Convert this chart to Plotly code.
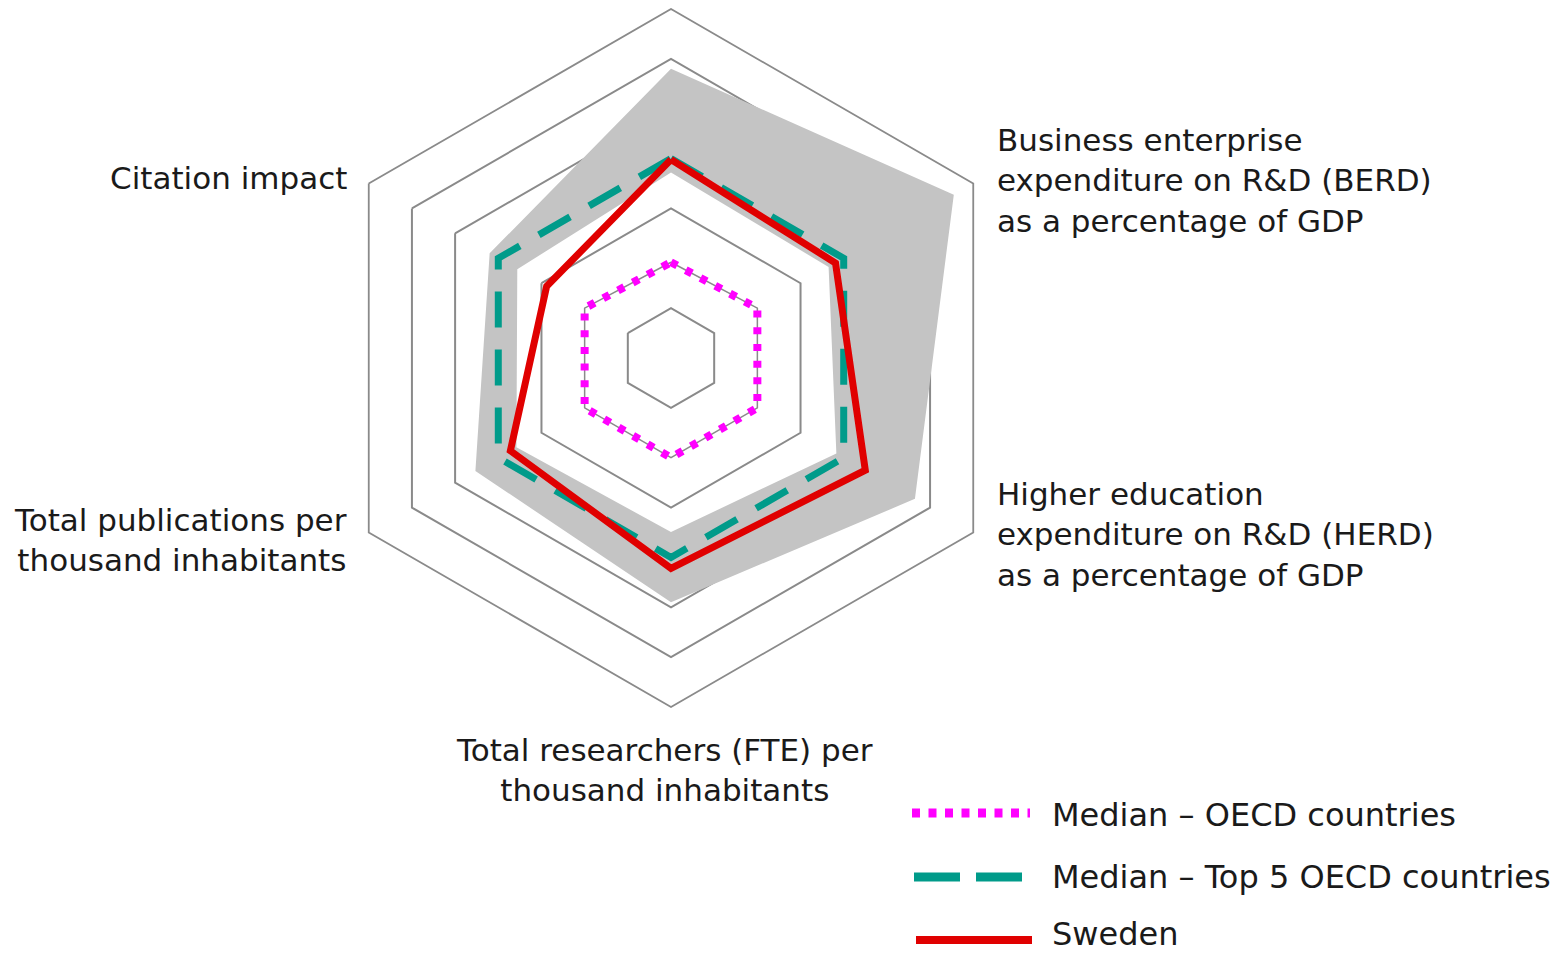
import plotly.graph_objects as go

# ---- data ----
axis_keys = ["A1", "BERD", "HERD", "FTE", "PUB", "CIT"]
axis_labels = [
    "",
    "Business enterprise<br>expenditure on R&D (BERD)<br>as a percentage of GDP",
    "Higher education<br>expenditure on R&D (HERD)<br>as a percentage of GDP",
    "Total researchers (FTE) per<br>thousand inhabitants",
    "Total publications per<br>thousand inhabitants",
    "Citation impact",
]
top5_max = [5.8, 6.55, 5.65, 4.9, 4.53, 4.2]
top5_min = [3.72, 3.65, 3.83, 3.49, 3.58, 3.56]
median_oecd = [1.92, 2.0, 2.0, 2.0, 2.0, 2.0]
median_top5 = [4.0, 4.0, 4.0, 4.0, 4.0, 4.0]
sweden = [3.98, 3.81, 4.5, 4.22, 3.72, 2.88]
ring_values = [1, 3, 5, 6, 7]
legend_names = ["Median \u2013 OECD countries", "Median \u2013 Top 5 OECD countries", "Sweden"]

W, H = 1562, 953
OFF = 8  # page body margin
FONT = "DejaVu Sans"
GRID = "#8a8a8a"
MAGENTA = "#ff00ff"
TEAL = "#009b8a"
RED = "#e00000"


def closed(vals):
    return list(vals) + [vals[0]]


def px(x):
    return (x - OFF) / W


def py(y):
    return 1 - (y - OFF) / H


fig = go.Figure()

# gray band between min and max of top-5 countries
band_theta = closed(axis_keys) + closed(axis_keys[::-1])
band_r = closed(top5_max) + closed(top5_min[::-1])
fig.add_trace(go.Scatterpolar(
    r=band_r, theta=band_theta, mode="lines", fill="toself",
    fillcolor="#c4c4c4", line=dict(width=0, color="rgba(0,0,0,0)"),
    hoverinfo="skip", showlegend=False))

# thin line under OECD median dots
fig.add_trace(go.Scatterpolar(
    r=closed(median_oecd), theta=closed(axis_keys), mode="lines",
    line=dict(color=GRID, width=1.5), hoverinfo="skip", showlegend=False))
fig.add_trace(go.Scatterpolar(
    r=closed(median_oecd), theta=closed(axis_keys), mode="lines",
    line=dict(color=MAGENTA, width=8, dash="7px,9.7px"),
    name=legend_names[0], showlegend=False))
fig.add_trace(go.Scatterpolar(
    r=closed(median_top5), theta=closed(axis_keys), mode="lines",
    line=dict(color=TEAL, width=7, dash="36px,22px"),
    name=legend_names[1], showlegend=False))
fig.add_trace(go.Scatterpolar(
    r=closed(sweden), theta=closed(axis_keys), mode="lines",
    line=dict(color=RED, width=7),
    name=legend_names[2], showlegend=False))

cx, cy, R = 671, 358, 349
fig.update_layout(
    width=W, height=H,
    margin=dict(l=0, r=0, t=0, b=0),
    paper_bgcolor="white", plot_bgcolor="white",
    font=dict(family=FONT, color="#1a1a1a"),
    polar=dict(
        domain=dict(x=[px(cx - R), px(cx + R)], y=[py(cy + R), py(cy - R)]),
        bgcolor="white",
        gridshape="linear",
        radialaxis=dict(range=[0, 7], tickvals=ring_values, showticklabels=False,
                        ticks="", showline=False, gridcolor=GRID, gridwidth=1.8,
                        layer="below traces"),
        angularaxis=dict(categoryarray=axis_keys, categoryorder="array",
                         direction="clockwise", rotation=90,
                         showticklabels=False, ticks="", showgrid=False,
                         showline=True, linecolor=GRID, linewidth=1.8,
                         layer="below traces"),
    ),
    showlegend=False,
)

# axis labels as annotations
lab_font = dict(family=FONT, size=31, color="#1a1a1a")
label_pos = [
    None,
    (995, 180, "left", "left"),
    (995, 534, "left", "left"),
    (664, 770, "center", "center"),
    (349, 540, "right", "right"),
    (349, 178, "right", "right"),
]
for text, pos in zip(axis_labels, label_pos):
    if pos is None or not text:
        continue
    x, y, xa, al = pos
    fig.add_annotation(x=px(x), y=py(y), xref="paper", yref="paper", text=text,
                       showarrow=False, xanchor=xa, yanchor="middle", align=al,
                       font=lab_font)

# manual legend
leg_items = [
    (813, 815, MAGENTA, 9, "8px,8.5px", 912, 1030),
    (877, 877, TEAL, 9, "46px,16px", 914, 1022),
    (940, 934, RED, 8, None, 916, 1032),
]
for (y, ty, col, w, dash, x0, x1), name in zip(leg_items, legend_names):
    line = dict(color=col, width=w)
    if dash:
        line["dash"] = dash
    fig.add_shape(type="line", xref="paper", yref="paper",
                  x0=px(x0), x1=px(x1), y0=py(y), y1=py(y), line=line)
    fig.add_annotation(x=px(1050), y=py(ty), xref="paper", yref="paper", text=name,
                       showarrow=False, xanchor="left", yanchor="middle", align="left",
                       font=dict(family=FONT, size=32, color="#1a1a1a"))

fig.write_html("out.html")
